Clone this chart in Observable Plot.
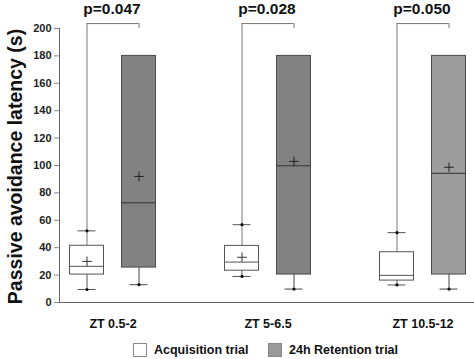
<!DOCTYPE html>
<html>
<head>
<meta charset="utf-8">
<script src="https://cdn.jsdelivr.net/npm/d3@7"></script>
<script src="https://cdn.jsdelivr.net/npm/@observablehq/plot@0.6"></script>
<style>
  html, body { margin: 0; padding: 0; background: #fff; }
  #wrap { position: relative; width: 474px; height: 359px; font-family: "Liberation Sans", Arial, sans-serif; }
  #legend { position: absolute; left: 0; top: 343px; width: 474px; height: 16px; font-weight: bold; font-size: 12.5px; color: #111; }
  .item { position: absolute; top: 0; display: flex; align-items: center; }
  .sw { width: 14px; height: 14px; border: 1px solid #888; margin-right: 7px; box-sizing: border-box; }
</style>
</head>
<body>
<div id="wrap"></div>
<script>
// ---- data ----
const groups = ["ZT 0.5-2", "ZT 5-6.5", "ZT 10.5-12"];
const pValues = ["p=0.047", "p=0.028", "p=0.050"];
const yTicks = [0, 20, 40, 60, 80, 100, 120, 140, 160, 180, 200];
const trials = ["Acquisition trial", "24h Retention trial"];

const acqMin = [9.5, 19, 12.8];
const acqQ1 = [20.4, 23.2, 16];
const acqMedian = [26.4, 29.5, 19.8];
const acqQ3 = [41.4, 41.3, 36.7];
const acqMax = [52.3, 56.8, 51];
const acqMean = [30, 33, null];

const retMin = [13, 9.8, 9.8];
const retQ1 = [25.5, 20.4, 20.4];
const retMedian = [72.8, 99.8, 94.3];
const retQ3 = [180, 180, 180];
const retMax = [180, 180, 180];
const retMean = [92, 103, 98.7];
const retFill = ["#828282", "#828282", "#9c9c9c"];

const bracketTop = 203.6;
const bracketEnd = 200;

// ---- build tables ----
const acq = groups.map((g, i) => ({g, min: acqMin[i], q1: acqQ1[i], med: acqMedian[i], q3: acqQ3[i], max: acqMax[i], mean: acqMean[i], top: bracketTop, p: pValues[i]}));
const ret = groups.map((g, i) => ({g, min: retMin[i], q1: retQ1[i], med: retMedian[i], q3: retQ3[i], max: retMax[i], mean: retMean[i], fill: retFill[i], top: bracketTop, end: bracketEnd}));

const F = "Liberation Sans, Arial, sans-serif";
const off = 26;
const A = {insetLeft: 34.5, insetRight: 86.5};
const R = {insetLeft: 86.5, insetRight: 34.5};
const AC = {insetLeft: 42.5, insetRight: 94.5};
const RC = {insetLeft: 94.5, insetRight: 42.5};

const lineGrey = "#777";
const boxStroke = "#4a4a4a";

const chart = Plot.plot({
  width: 474,
  height: 336,
  marginLeft: 59,
  marginRight: 0,
  marginTop: 28,
  marginBottom: 34,
  style: {fontFamily: F, background: "#fff", overflow: "visible"},
  x: {type: "band", domain: groups, range: [34.5, 499.5], padding: 0, label: null},
  y: {domain: [0, 200], label: null},
  marks: [
    Plot.axisY({ticks: yTicks, tickSize: 5, tickPadding: 3, fontSize: 11, fontWeight: "bold", stroke: "#888", fill: "#222"}),
    Plot.frame({anchor: "left", stroke: "#666"}),
    Plot.ruleY([0], {stroke: "#666"}),
    Plot.axisX({tickSize: 0, tickPadding: 17, fontSize: 12.5, fontWeight: "bold", fill: "#111"}),
    Plot.text(["Passive avoidance latency (s)"], {frameAnchor: "left", textAnchor: "middle", rotate: -90, dx: -44, dy: 1, fontSize: 19.5, fontWeight: "bold", fill: "#111"}),

    Plot.ruleX(acq, {x: "g", y1: "q3", y2: "top", dx: -off, stroke: lineGrey}),
    Plot.tickY(acq, {x: "g", y: "top", insetLeft: 51.5, insetRight: 51.5, stroke: lineGrey}),
    Plot.ruleX(ret, {x: "g", y1: "end", y2: "top", dx: off, stroke: lineGrey}),
    Plot.text(acq, {x: "g", y: "top", text: "p", dy: -10, lineAnchor: "bottom", fontSize: 15.5, fontWeight: "bold", fill: "#111", dx: -1}),

    Plot.ruleX(acq, {x: "g", y1: "min", y2: "q1", dx: -off, stroke: "#555"}),
    Plot.tickY(acq, {x: "g", y: "max", ...AC, stroke: "#555"}),
    Plot.tickY(acq, {x: "g", y: "min", ...AC, stroke: "#555"}),
    Plot.dot(acq, {x: "g", y: "max", dx: -off, r: 1.6, fill: "#111"}),
    Plot.dot(acq, {x: "g", y: "min", dx: -off, r: 1.6, fill: "#111"}),
    Plot.barY(acq, {x: "g", y1: "q1", y2: "q3", ...A, fill: "#fff", stroke: "#555"}),
    Plot.tickY(acq, {x: "g", y: "med", ...A, stroke: "#555"}),
    Plot.dot(acq.filter(d => d.mean != null), {x: "g", y: "mean", dx: -off, symbol: "plus", r: 3.2, stroke: "#333", strokeWidth: 1}),

    Plot.ruleX(ret, {x: "g", y1: "min", y2: "q1", dx: off, stroke: "#444"}),
    Plot.tickY(ret, {x: "g", y: "min", ...RC, stroke: "#444"}),
    Plot.dot(ret, {x: "g", y: "min", dx: off, r: 1.6, fill: "#111"}),
    Plot.barY(ret, {x: "g", y1: "q1", y2: "q3", ...R, fill: "fill", stroke: boxStroke}),
    Plot.tickY(ret, {x: "g", y: "med", ...R, stroke: "#333"}),
    Plot.dot(ret, {x: "g", y: "mean", dx: off, symbol: "plus", r: 3.2, stroke: "#222", strokeWidth: 1})
  ]
});

const wrap = document.getElementById("wrap");
wrap.appendChild(chart);

const legend = document.createElement("div");
legend.id = "legend";
const swatchFill = ["#fff", "#9a9a9a"];
const lefts = [133, 268];
trials.forEach((t, i) => {
  const it = document.createElement("div");
  it.className = "item";
  it.style.left = lefts[i] + "px";
  const sw = document.createElement("div");
  sw.className = "sw";
  sw.style.background = swatchFill[i];
  const tx = document.createElement("span");
  tx.textContent = t;
  it.appendChild(sw);
  it.appendChild(tx);
  legend.appendChild(it);
});
wrap.appendChild(legend);
</script>
</body>
</html>
